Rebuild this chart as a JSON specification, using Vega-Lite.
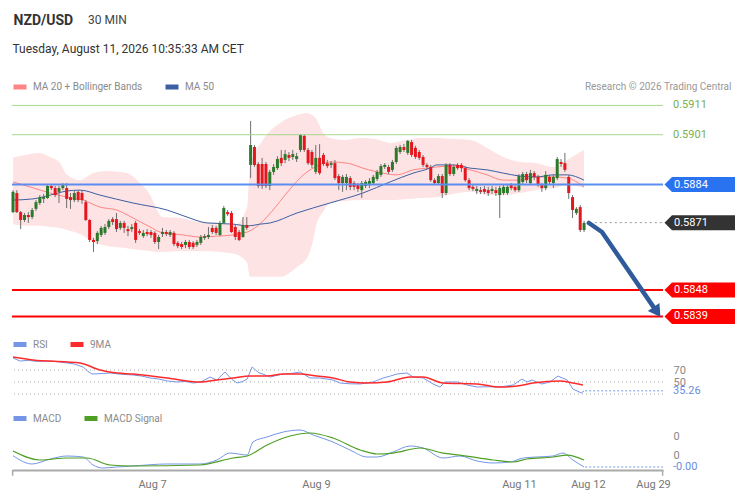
{
"$schema":"https://vega.github.io/schema/vega-lite/v6.json",
"background":"#ffffff",
"padding":{"left":9,"top":13,"right":3,"bottom":2},
"config":{"font":"Roboto","view":{"stroke":null},"axis":{"grid":false,"minExtent":0,"titleLimit":1000},
"legend":{"orient":"none","direction":"horizontal","symbolType":"stroke","symbolSize":169,"symbolStrokeWidth":5,"labelFontSize":10,"labelColor":"#8a8a8a","labelOffset":4,"columnPadding":12}},
"datasets":{
"candles":[
{"i":0,"o":0.58746,"h":0.58821,"l":0.58743,"c":0.58815},
{"i":1,"o":0.58811,"h":0.58821,"l":0.58743,"c":0.58746},
{"i":2,"o":0.58746,"h":0.5875,"l":0.58688,"c":0.58719},
{"i":3,"o":0.58719,"h":0.58743,"l":0.58712,"c":0.58736},
{"i":4,"o":0.58736,"h":0.58746,"l":0.58709,"c":0.58729},
{"i":5,"o":0.58729,"h":0.5876,"l":0.58722,"c":0.58753},
{"i":6,"o":0.58757,"h":0.58787,"l":0.5875,"c":0.5878},
{"i":7,"o":0.58777,"h":0.58804,"l":0.5877,"c":0.58797},
{"i":8,"o":0.58791,"h":0.58808,"l":0.58777,"c":0.58797},
{"i":9,"o":0.58794,"h":0.58838,"l":0.58791,"c":0.58835},
{"i":10,"o":0.58835,"h":0.58838,"l":0.58821,"c":0.58828},
{"i":11,"o":0.58828,"h":0.58835,"l":0.58797,"c":0.58804},
{"i":12,"o":0.58815,"h":0.58835,"l":0.58777,"c":0.58828},
{"i":13,"o":0.58828,"h":0.58845,"l":0.58821,"c":0.58838},
{"i":14,"o":0.58828,"h":0.58845,"l":0.5876,"c":0.58791},
{"i":15,"o":0.58797,"h":0.58811,"l":0.58757,"c":0.58787},
{"i":16,"o":0.58787,"h":0.58818,"l":0.5878,"c":0.58811},
{"i":17,"o":0.58815,"h":0.58821,"l":0.5878,"c":0.58787},
{"i":18,"o":0.58811,"h":0.58818,"l":0.58774,"c":0.58787},
{"i":19,"o":0.5878,"h":0.58787,"l":0.58716,"c":0.58719},
{"i":20,"o":0.58719,"h":0.58722,"l":0.58644,"c":0.58651},
{"i":21,"o":0.58651,"h":0.58658,"l":0.5861,"c":0.58644},
{"i":22,"o":0.58647,"h":0.58681,"l":0.58637,"c":0.58675},
{"i":23,"o":0.58668,"h":0.58699,"l":0.58661,"c":0.58692},
{"i":24,"o":0.58675,"h":0.58705,"l":0.58668,"c":0.58695},
{"i":25,"o":0.58695,"h":0.58722,"l":0.58688,"c":0.58716},
{"i":26,"o":0.58722,"h":0.58729,"l":0.58702,"c":0.58712},
{"i":27,"o":0.58722,"h":0.58743,"l":0.58678,"c":0.58688},
{"i":28,"o":0.58692,"h":0.58716,"l":0.58685,"c":0.58709},
{"i":29,"o":0.58709,"h":0.58716,"l":0.58675,"c":0.58692},
{"i":30,"o":0.58688,"h":0.58699,"l":0.58664,"c":0.58681},
{"i":31,"o":0.58688,"h":0.58705,"l":0.58678,"c":0.58695},
{"i":32,"o":0.58709,"h":0.58716,"l":0.58641,"c":0.58651},
{"i":33,"o":0.58681,"h":0.58688,"l":0.58668,"c":0.58675},
{"i":34,"o":0.58664,"h":0.58685,"l":0.58658,"c":0.58675},
{"i":35,"o":0.58678,"h":0.58688,"l":0.58664,"c":0.58671},
{"i":36,"o":0.58678,"h":0.58685,"l":0.58658,"c":0.58668},
{"i":37,"o":0.58675,"h":0.58681,"l":0.58637,"c":0.58644},
{"i":38,"o":0.58644,"h":0.58668,"l":0.5862,"c":0.58661},
{"i":39,"o":0.58671,"h":0.58692,"l":0.58661,"c":0.58678},
{"i":40,"o":0.58678,"h":0.58685,"l":0.58664,"c":0.58671},
{"i":41,"o":0.58668,"h":0.58685,"l":0.58661,"c":0.58678},
{"i":42,"o":0.58675,"h":0.58681,"l":0.5863,"c":0.58637},
{"i":43,"o":0.58641,"h":0.58647,"l":0.58623,"c":0.5863},
{"i":44,"o":0.58637,"h":0.58644,"l":0.5862,"c":0.58627},
{"i":45,"o":0.58634,"h":0.58651,"l":0.58623,"c":0.58644},
{"i":46,"o":0.58644,"h":0.58651,"l":0.5862,"c":0.58627},
{"i":47,"o":0.58641,"h":0.58647,"l":0.5862,"c":0.58627},
{"i":48,"o":0.58634,"h":0.58651,"l":0.58627,"c":0.58644},
{"i":49,"o":0.58641,"h":0.58668,"l":0.58634,"c":0.58661},
{"i":50,"o":0.58658,"h":0.58671,"l":0.58651,"c":0.58664},
{"i":51,"o":0.58661,"h":0.58695,"l":0.58654,"c":0.58668},
{"i":52,"o":0.58692,"h":0.58702,"l":0.58671,"c":0.58678},
{"i":53,"o":0.58692,"h":0.58699,"l":0.58668,"c":0.58675},
{"i":54,"o":0.58668,"h":0.58716,"l":0.58664,"c":0.58709},
{"i":55,"o":0.58709,"h":0.58767,"l":0.58705,"c":0.5876},
{"i":56,"o":0.58746,"h":0.58753,"l":0.58733,"c":0.58739},
{"i":57,"o":0.58743,"h":0.5875,"l":0.58675,"c":0.58678},
{"i":58,"o":0.58695,"h":0.58702,"l":0.58651,"c":0.58661},
{"i":59,"o":0.58678,"h":0.58685,"l":0.58647,"c":0.58651},
{"i":60,"o":0.58661,"h":0.58729,"l":0.58658,"c":0.58702},
{"i":61,"o":0.58702,"h":0.58729,"l":0.58685,"c":0.58692},
{"i":62,"o":0.58907,"h":0.59057,"l":0.58862,"c":0.58975},
{"i":63,"o":0.58968,"h":0.58975,"l":0.589,"c":0.58907},
{"i":64,"o":0.5891,"h":0.58917,"l":0.58828,"c":0.58835},
{"i":65,"o":0.5891,"h":0.58931,"l":0.58825,"c":0.58835},
{"i":66,"o":0.5891,"h":0.58917,"l":0.58828,"c":0.58835},
{"i":67,"o":0.58835,"h":0.5889,"l":0.58821,"c":0.58883},
{"i":68,"o":0.58883,"h":0.5891,"l":0.58873,"c":0.589},
{"i":69,"o":0.58896,"h":0.58937,"l":0.5889,"c":0.58927},
{"i":70,"o":0.58931,"h":0.58958,"l":0.58903,"c":0.58913},
{"i":71,"o":0.58924,"h":0.58958,"l":0.58913,"c":0.58944},
{"i":72,"o":0.58941,"h":0.58951,"l":0.5892,"c":0.58931},
{"i":73,"o":0.58934,"h":0.58958,"l":0.58924,"c":0.58944},
{"i":74,"o":0.58927,"h":0.58948,"l":0.58917,"c":0.58937},
{"i":75,"o":0.58958,"h":0.59012,"l":0.58951,"c":0.59009},
{"i":76,"o":0.59006,"h":0.59012,"l":0.58951,"c":0.58958},
{"i":77,"o":0.58958,"h":0.58965,"l":0.58907,"c":0.58913},
{"i":78,"o":0.58951,"h":0.58958,"l":0.58896,"c":0.58907},
{"i":79,"o":0.58883,"h":0.58975,"l":0.58876,"c":0.58931},
{"i":80,"o":0.58931,"h":0.58978,"l":0.58873,"c":0.58879},
{"i":81,"o":0.58941,"h":0.58948,"l":0.58903,"c":0.5891},
{"i":82,"o":0.58913,"h":0.58924,"l":0.58896,"c":0.58903},
{"i":83,"o":0.58907,"h":0.5892,"l":0.58896,"c":0.58913},
{"i":84,"o":0.58913,"h":0.58924,"l":0.58855,"c":0.58862},
{"i":85,"o":0.58869,"h":0.58876,"l":0.58821,"c":0.58845},
{"i":86,"o":0.58845,"h":0.58873,"l":0.58815,"c":0.58866},
{"i":87,"o":0.58845,"h":0.58876,"l":0.58821,"c":0.58866},
{"i":88,"o":0.58862,"h":0.58869,"l":0.58821,"c":0.58832},
{"i":89,"o":0.58845,"h":0.58852,"l":0.58821,"c":0.58832},
{"i":90,"o":0.58838,"h":0.58845,"l":0.58815,"c":0.58825},
{"i":91,"o":0.58821,"h":0.58852,"l":0.58794,"c":0.58845},
{"i":92,"o":0.58835,"h":0.58855,"l":0.58828,"c":0.58849},
{"i":93,"o":0.58838,"h":0.58862,"l":0.58828,"c":0.58852},
{"i":94,"o":0.58845,"h":0.58873,"l":0.58838,"c":0.58866},
{"i":95,"o":0.58859,"h":0.5889,"l":0.58852,"c":0.58883},
{"i":96,"o":0.58873,"h":0.5891,"l":0.58866,"c":0.58903},
{"i":97,"o":0.589,"h":0.58913,"l":0.58893,"c":0.58907},
{"i":98,"o":0.589,"h":0.58907,"l":0.58876,"c":0.58883},
{"i":99,"o":0.5889,"h":0.58924,"l":0.58883,"c":0.58917},
{"i":100,"o":0.58917,"h":0.58972,"l":0.5891,"c":0.58965},
{"i":101,"o":0.58951,"h":0.58975,"l":0.58944,"c":0.58968},
{"i":102,"o":0.58968,"h":0.58978,"l":0.58951,"c":0.58958},
{"i":103,"o":0.58948,"h":0.58992,"l":0.58941,"c":0.58989},
{"i":104,"o":0.58985,"h":0.58992,"l":0.58934,"c":0.58941},
{"i":105,"o":0.58965,"h":0.58972,"l":0.58927,"c":0.58934},
{"i":106,"o":0.58951,"h":0.58958,"l":0.58924,"c":0.58931},
{"i":107,"o":0.58934,"h":0.58941,"l":0.589,"c":0.58907},
{"i":108,"o":0.58907,"h":0.58913,"l":0.58893,"c":0.589},
{"i":109,"o":0.589,"h":0.58907,"l":0.58849,"c":0.58855},
{"i":110,"o":0.58855,"h":0.58862,"l":0.58838,"c":0.58845},
{"i":111,"o":0.58845,"h":0.58876,"l":0.58838,"c":0.58869},
{"i":112,"o":0.58869,"h":0.58876,"l":0.58794,"c":0.58811},
{"i":113,"o":0.58811,"h":0.58913,"l":0.58804,"c":0.58907},
{"i":114,"o":0.58907,"h":0.58913,"l":0.58869,"c":0.58876},
{"i":115,"o":0.58876,"h":0.58907,"l":0.58869,"c":0.589},
{"i":116,"o":0.58907,"h":0.58913,"l":0.5889,"c":0.58896},
{"i":117,"o":0.58907,"h":0.58913,"l":0.58883,"c":0.58896},
{"i":118,"o":0.58896,"h":0.58903,"l":0.58849,"c":0.58855},
{"i":119,"o":0.58855,"h":0.58862,"l":0.58821,"c":0.58828},
{"i":120,"o":0.58832,"h":0.58842,"l":0.58818,"c":0.58825},
{"i":121,"o":0.58818,"h":0.58835,"l":0.58808,"c":0.58825},
{"i":122,"o":0.58821,"h":0.58832,"l":0.58808,"c":0.58815},
{"i":123,"o":0.58825,"h":0.58835,"l":0.58808,"c":0.58815},
{"i":124,"o":0.58821,"h":0.58832,"l":0.58801,"c":0.58811},
{"i":125,"o":0.58818,"h":0.58835,"l":0.58808,"c":0.58825},
{"i":126,"o":0.58821,"h":0.58832,"l":0.58801,"c":0.58811},
{"i":127,"o":0.58804,"h":0.58835,"l":0.58726,"c":0.58828},
{"i":128,"o":0.58811,"h":0.58842,"l":0.58804,"c":0.58832},
{"i":129,"o":0.58811,"h":0.58838,"l":0.58804,"c":0.58832},
{"i":130,"o":0.58838,"h":0.58845,"l":0.58821,"c":0.58828},
{"i":131,"o":0.58832,"h":0.58838,"l":0.58815,"c":0.58821},
{"i":132,"o":0.58821,"h":0.58876,"l":0.58815,"c":0.58869},
{"i":133,"o":0.58849,"h":0.58883,"l":0.58842,"c":0.58876},
{"i":134,"o":0.58876,"h":0.58883,"l":0.58845,"c":0.58855},
{"i":135,"o":0.58845,"h":0.5889,"l":0.58838,"c":0.58879},
{"i":136,"o":0.58879,"h":0.58886,"l":0.58855,"c":0.58866},
{"i":137,"o":0.58866,"h":0.58873,"l":0.58832,"c":0.58838},
{"i":138,"o":0.58838,"h":0.58845,"l":0.58815,"c":0.58828},
{"i":139,"o":0.58828,"h":0.58886,"l":0.58821,"c":0.58873},
{"i":140,"o":0.58866,"h":0.58873,"l":0.58842,"c":0.58849},
{"i":141,"o":0.58845,"h":0.58873,"l":0.58828,"c":0.58866},
{"i":142,"o":0.58862,"h":0.58934,"l":0.58855,"c":0.58927},
{"i":143,"o":0.58917,"h":0.58927,"l":0.589,"c":0.5891},
{"i":144,"o":0.58913,"h":0.58948,"l":0.58883,"c":0.5889},
{"i":145,"o":0.58866,"h":0.58873,"l":0.58791,"c":0.58811},
{"i":146,"o":0.58797,"h":0.58804,"l":0.58726,"c":0.58753},
{"i":147,"o":0.58743,"h":0.58763,"l":0.58736,"c":0.58757},
{"i":148,"o":0.58763,"h":0.5877,"l":0.58678,"c":0.58685},
{"i":149,"o":0.58685,"h":0.58716,"l":0.58678,"c":0.58709}
],
"band":[
{"i":0,"up":0.58931,"lo":0.58705},{"i":3.1,"up":0.58941,"lo":0.58699},{"i":7,"up":0.58948,"lo":0.58699},{"i":9.7,"up":0.58934,"lo":0.58695},{"i":12.3,"up":0.58913,"lo":0.58692},{"i":14.1,"up":0.58873,"lo":0.58685},{"i":17.5,"up":0.58855,"lo":0.58671},{"i":20.9,"up":0.58879,"lo":0.58644},{"i":24.5,"up":0.58886,"lo":0.5863},{"i":29.7,"up":0.58879,"lo":0.58623},{"i":33.1,"up":0.58845,"lo":0.58617},{"i":35.8,"up":0.58804,"lo":0.58613},{"i":37.6,"up":0.58753,"lo":0.5861},{"i":38.9,"up":0.58729,"lo":0.5861},{"i":43.6,"up":0.58726,"lo":0.58613},{"i":48.8,"up":0.58712,"lo":0.58613},{"i":54,"up":0.58709,"lo":0.5861},{"i":57.9,"up":0.58702,"lo":0.58603},{"i":61.1,"up":0.58763,"lo":0.58572},{"i":61.8,"up":0.589,"lo":0.58525},{"i":65.2,"up":0.58992,"lo":0.58525},{"i":69.7,"up":0.5905,"lo":0.58525},{"i":74.1,"up":0.59077,"lo":0.58559},{"i":76.7,"up":0.59084,"lo":0.58589},{"i":78,"up":0.59077,"lo":0.58634},{"i":79.3,"up":0.5906,"lo":0.58709},{"i":80.9,"up":0.59016,"lo":0.58746},{"i":82.7,"up":0.58999,"lo":0.58777},{"i":86.6,"up":0.58992,"lo":0.58784},{"i":90.6,"up":0.58999,"lo":0.58787},{"i":94.5,"up":0.58995,"lo":0.58787},{"i":98.4,"up":0.58982,"lo":0.58787},{"i":102.8,"up":0.58992,"lo":0.58791},{"i":106.2,"up":0.58999,"lo":0.58794},{"i":110.6,"up":0.58999,"lo":0.58797},{"i":114.8,"up":0.58995,"lo":0.58808},{"i":119.3,"up":0.58992,"lo":0.58815},{"i":123.7,"up":0.58965,"lo":0.58804},{"i":127.9,"up":0.58934,"lo":0.58804},{"i":132.3,"up":0.58917,"lo":0.58811},{"i":136.7,"up":0.58913,"lo":0.58821},{"i":140.9,"up":0.589,"lo":0.58828},{"i":144.6,"up":0.58924,"lo":0.58838},{"i":146.7,"up":0.58941,"lo":0.58835},{"i":149,"up":0.58958,"lo":0.58828}
],
"ma20":[
{"i":0,"v":0.58849},{"i":4.4,"v":0.58832},{"i":9.7,"v":0.58811},{"i":14.1,"v":0.58797},{"i":18.3,"v":0.58787},{"i":22.7,"v":0.58763},{"i":27.1,"v":0.58753},{"i":31.3,"v":0.58726},{"i":35.8,"v":0.58695},{"i":38.4,"v":0.58678},{"i":44.4,"v":0.58668},{"i":48.8,"v":0.58661},{"i":53.2,"v":0.58664},{"i":57.4,"v":0.58668},{"i":61.1,"v":0.58678},{"i":78.3,"v":0.58896},{"i":82.7,"v":0.58917},{"i":87.2,"v":0.58913},{"i":91.3,"v":0.58896},{"i":95,"v":0.58883},{"i":100.2,"v":0.58873},{"i":104.4,"v":0.5889},{"i":108,"v":0.58896},{"i":110.6,"v":0.589},{"i":114.8,"v":0.58903},{"i":119.3,"v":0.5889},{"i":123.7,"v":0.58873},{"i":127.9,"v":0.58855},{"i":132.3,"v":0.58855},{"i":136.7,"v":0.58866},{"i":140.9,"v":0.58866},{"i":144.6,"v":0.58862},{"i":149,"v":0.58832}
],
"ma50":[
{"i":0,"v":0.58787},{"i":5.2,"v":0.58791},{"i":9.7,"v":0.58804},{"i":14.1,"v":0.58818},{"i":17.5,"v":0.58821},{"i":22.7,"v":0.58804},{"i":31.3,"v":0.58777},{"i":40.2,"v":0.58753},{"i":45.4,"v":0.58729},{"i":50.6,"v":0.58709},{"i":57.4,"v":0.58705},{"i":61.3,"v":0.58699},{"i":64.5,"v":0.58705},{"i":67.1,"v":0.58709},{"i":74.1,"v":0.58743},{"i":82.7,"v":0.58777},{"i":91.3,"v":0.58811},{"i":98.4,"v":0.58849},{"i":104.4,"v":0.58879},{"i":108.8,"v":0.58896},{"i":110.6,"v":0.58907},{"i":114.8,"v":0.58907},{"i":119.3,"v":0.58896},{"i":123.7,"v":0.5889},{"i":127.9,"v":0.58879},{"i":132.3,"v":0.58869},{"i":136.7,"v":0.58866},{"i":140.9,"v":0.58873},{"i":144.6,"v":0.58873},{"i":149,"v":0.58855}
],
"levels":[
{"level":0.5911,"kind":"R2"},{"level":0.5901,"kind":"R1"},{"level":0.5884,"kind":"P"},{"level":0.5871,"kind":"L"},{"level":0.5848,"kind":"S1"},{"level":0.5839,"kind":"S2"}
],
"arrow":[{"i":150.27,"v":0.587088},{"i":153.67,"v":0.586781},{"i":167.15,"v":0.584218}],
"arrowTip":[{"i":168.93,"v":0.583881}],
"rsi":[
{"i":0,"v":90},{"i":1.8,"v":85},{"i":4,"v":86},{"i":6,"v":84.5},{"i":9.7,"v":85},{"i":12,"v":83.5},{"i":14.1,"v":81.7},{"i":16,"v":80},{"i":18.3,"v":75},{"i":19.5,"v":68},{"i":20.6,"v":63.3},{"i":23,"v":64},{"i":25.3,"v":65},{"i":28,"v":63},{"i":31.3,"v":61.7},{"i":33.5,"v":60},{"i":35.8,"v":56.7},{"i":38,"v":55},{"i":40,"v":52},{"i":42.8,"v":50},{"i":45,"v":51},{"i":47,"v":48.3},{"i":49,"v":50},{"i":51.4,"v":58.3},{"i":53.2,"v":53.3},{"i":55.3,"v":66.7},{"i":57,"v":55},{"i":58.5,"v":48.3},{"i":60,"v":51},{"i":61.1,"v":55},{"i":62.4,"v":75},{"i":64,"v":66},{"i":65.2,"v":63.3},{"i":67.1,"v":58.3},{"i":68.8,"v":61},{"i":70.5,"v":63.3},{"i":72.5,"v":64},{"i":74.9,"v":66.7},{"i":77.5,"v":56.7},{"i":80.1,"v":56.7},{"i":83.5,"v":53.3},{"i":85.3,"v":48.3},{"i":88,"v":47},{"i":90.6,"v":46.7},{"i":93.9,"v":50},{"i":96.6,"v":56.7},{"i":98.5,"v":60},{"i":100.2,"v":63.3},{"i":102.8,"v":65},{"i":104.4,"v":58.3},{"i":107,"v":56.7},{"i":109.6,"v":46.7},{"i":111.4,"v":41.7},{"i":112.7,"v":50},{"i":115.9,"v":50},{"i":118.5,"v":45},{"i":121.1,"v":41.7},{"i":124,"v":42},{"i":127.1,"v":41.7},{"i":130.5,"v":45},{"i":132.8,"v":55},{"i":134.1,"v":50},{"i":135.4,"v":53.3},{"i":138,"v":46.7},{"i":140.1,"v":50},{"i":142.2,"v":60},{"i":144.6,"v":53.3},{"i":146.1,"v":38.3},{"i":148.3,"v":31.7},{"i":149,"v":35.26}
],
"rsima":[
{"i":0,"v":91.7},{"i":5.2,"v":86.7},{"i":14.1,"v":83.3},{"i":17.5,"v":81.7},{"i":22.7,"v":70},{"i":27.1,"v":65},{"i":31.3,"v":63.3},{"i":40.2,"v":56.7},{"i":48.8,"v":50},{"i":53.2,"v":53.3},{"i":57.4,"v":56.7},{"i":61.8,"v":60},{"i":66.3,"v":60},{"i":70.5,"v":63.3},{"i":74.9,"v":63.3},{"i":79.3,"v":60},{"i":83.5,"v":56.7},{"i":87.9,"v":50},{"i":92.4,"v":48.3},{"i":97.6,"v":50},{"i":103.6,"v":58.3},{"i":107,"v":58.3},{"i":112.2,"v":48.3},{"i":121.1,"v":46.7},{"i":127.1,"v":41.7},{"i":131.5,"v":43.3},{"i":135.7,"v":48.3},{"i":142.7,"v":51.7},{"i":146.1,"v":48.3},{"i":148.7,"v":45}
],
"macd":[
{"i":0,"v":0.0001},{"i":5,"v":0.0000126},{"i":9.7,"v":0.0000652},{"i":14.1,"v":0.0000968},{"i":18.3,"v":0.0000863},{"i":20.9,"v":0.000002},{"i":23.5,"v":-0.0000295},{"i":27.1,"v":-0.0000189},{"i":31.3,"v":-0.0000084},{"i":40.2,"v":0.0000126},{"i":48.8,"v":0.0000126},{"i":53.2,"v":0.0000547},{"i":56.6,"v":0.000128},{"i":61.1,"v":0.000107},{"i":62.6,"v":0.000244},{"i":66.3,"v":0.000297},{"i":70.5,"v":0.000349},{"i":74.9,"v":0.00037},{"i":78.3,"v":0.000318},{"i":83.5,"v":0.000244},{"i":87.9,"v":0.00016},{"i":92.4,"v":0.0000863},{"i":95,"v":0.0000863},{"i":99.2,"v":0.000139},{"i":103.6,"v":0.000202},{"i":107,"v":0.000181},{"i":112.2,"v":0.0000757},{"i":116.6,"v":0.0000968},{"i":121.1,"v":0.0000442},{"i":125.3,"v":0.0000231},{"i":129.7,"v":0.0000337},{"i":133.1,"v":0.0000757},{"i":136.7,"v":0.0000863},{"i":140.9,"v":0.0000968},{"i":143.5,"v":0.000128},{"i":146.1,"v":0.0000547},{"i":149,"v":-0.0000189}
],
"signal":[
{"i":0,"v":0.000149},{"i":7,"v":0.0000547},{"i":14.1,"v":0.0000757},{"i":19.3,"v":0.0000757},{"i":25.3,"v":0.000002},{"i":31.3,"v":-0.0000084},{"i":48.8,"v":0.000002},{"i":57.4,"v":0.0000757},{"i":61.1,"v":0.0000968},{"i":66.3,"v":0.000213},{"i":72.3,"v":0.000307},{"i":77.5,"v":0.000339},{"i":83.5,"v":0.000286},{"i":90.6,"v":0.00016},{"i":95,"v":0.000118},{"i":99.2,"v":0.000128},{"i":106.2,"v":0.000181},{"i":112.2,"v":0.000128},{"i":116.6,"v":0.000107},{"i":125.3,"v":0.0000547},{"i":130.5,"v":0.0000337},{"i":134.1,"v":0.0000652},{"i":140.9,"v":0.0000863},{"i":144.6,"v":0.000107},{"i":149,"v":0.0000547}
]
},
"spacing":12,
"bounds":"flush",
"resolve":{"scale":{"color":"independent"},"legend":{"color":"independent"}},
"vconcat":[
{
"width":651,"height":244,
"resolve":{"axis":{"x":"independent","y":"independent"}},
"layer":[
{"data":{"name":"band"},"mark":{"type":"area","color":"#fde3e3","interpolate":"monotone"},
 "encoding":{
  "x":{"field":"i","type":"quantitative","scale":{"domain":[-0.26,169.6],"nice":false,"zero":false,"padding":0},
   "axis":{"orient":"top","title":"NZD/USD","labels":false,"ticks":false,"domain":false,"titleX":1,"titleY":-72,"titleAlign":"left","titleAnchor":"start","titleBaseline":"alphabetic","titleFontSize":14,"titleFontWeight":"bold","titleColor":"#333333","titlePadding":0}},
  "y":{"field":"lo","type":"quantitative","scale":{"domain":[0.583096,0.591421],"nice":false,"zero":false},
   "axis":{"orient":"left","title":"30 MIN","labels":false,"ticks":false,"domain":false,"titleAngle":0,"titleX":75.5,"titleY":-72.5,"titleAlign":"left","titleBaseline":"alphabetic","titleFontSize":12,"titleFontWeight":"normal","titleColor":"#444444","titlePadding":0}},
  "y2":{"field":"up"}}},
{"data":{"name":"ma20"},"mark":{"type":"line","strokeWidth":1,"interpolate":"monotone"},
 "encoding":{
  "x":{"field":"i","type":"quantitative","scale":{"domain":[-0.26,169.6],"nice":false,"zero":false,"padding":0},"axis":null},
  "y":{"field":"v","type":"quantitative","scale":{"domain":[0.583096,0.591421],"nice":false,"zero":false},"axis":null},
  "color":{"datum":"MA 20 + Bollinger Bands","scale":{"domain":["MA 20 + Bollinger Bands","MA 50"],"range":["#ff8585","#3d5fa3"]},
   "legend":{"title":null,"orient":"none","legendX":-1,"legendY":-18,"direction":"horizontal","encode":{"symbols":{"update":{"strokeWidth":{"value":5}}}}}}}},
{"data":{"name":"ma50"},"mark":{"type":"line","strokeWidth":1,"interpolate":"monotone"},
 "encoding":{
  "x":{"field":"i","type":"quantitative","axis":null},
  "y":{"field":"v","type":"quantitative","axis":null},
  "color":{"datum":"MA 50"}}},
{"data":{"name":"candles"},"mark":{"type":"rule","color":"#6e6e6e","strokeWidth":1},
 "encoding":{
  "x":{"field":"i","type":"quantitative",
   "axis":{"orient":"bottom","title":"Tuesday, August 11, 2026 10:35:33 AM CET","labels":false,"ticks":false,"domain":false,"titleX":0,"titleY":-287.5,"titleAlign":"left","titleAnchor":"start","titleBaseline":"alphabetic","titleFontSize":12,"titleFontWeight":"normal","titleColor":"#333333","titlePadding":0}},
  "y":{"field":"l","type":"quantitative",
   "axis":{"orient":"right","title":"Research © 2026 Trading Central","labels":false,"ticks":false,"domain":false,"titleAngle":0,"titleX":68,"titleY":-9.7,"titleAlign":"right","titleBaseline":"middle","titleFontSize":10,"titleFontWeight":"normal","titleColor":"#999999","titlePadding":0}},
  "y2":{"field":"h"}}},
{"data":{"name":"candles"},"mark":{"type":"bar","width":3},
 "encoding":{
  "x":{"field":"i","type":"quantitative","scale":{"domain":[-0.26,169.6],"nice":false,"zero":false,"padding":0},"axis":null},
  "y":{"field":"o","type":"quantitative","axis":null},
  "y2":{"field":"c"},
  "color":{"condition":{"test":"datum.c >= datum.o","value":"#2b7a2b"},"value":"#e5161d"}}},
{"data":{"name":"levels"},"transform":[{"filter":{"field":"kind","oneOf":["R1","R2"]}}],"mark":{"type":"rule","color":"#a8d88f","strokeWidth":1},
 "encoding":{"y":{"field":"level","type":"quantitative","axis":null}}},
{"data":{"name":"levels"},"transform":[{"filter":{"field":"kind","equal":"P"}}],"mark":{"type":"rule","color":"#5b8def","strokeWidth":2},
 "encoding":{"y":{"field":"level","type":"quantitative","axis":null}}},
{"data":{"name":"levels"},"transform":[{"filter":{"field":"kind","oneOf":["S1","S2"]}}],"mark":{"type":"rule","color":"#ff0000","strokeWidth":2},
 "encoding":{"y":{"field":"level","type":"quantitative","axis":null}}},
{"data":{"name":"levels"},"transform":[{"filter":{"field":"kind","equal":"L"}}],"mark":{"type":"rule","color":"#999999","strokeWidth":1,"strokeDash":[2,3]},
 "encoding":{"x":{"datum":150.5,"type":"quantitative","axis":null},"x2":{"datum":169.6},"y":{"field":"level","type":"quantitative","axis":null}}},
{"data":{"name":"arrow"},"mark":{"type":"line","color":"#2f5b9b","strokeWidth":4.5,"strokeCap":"round","strokeJoin":"round"},
 "encoding":{"x":{"field":"i","type":"quantitative","axis":null},"y":{"field":"v","type":"quantitative","axis":null}}},
{"data":{"name":"arrowTip"},"mark":{"type":"point","shape":"M0,0L-1,-13.9L-12.6,-5.9Z","size":4,"filled":true,"opacity":1,"color":"#2f5b9b","strokeWidth":0},
 "encoding":{"x":{"field":"i","type":"quantitative","axis":null},"y":{"field":"v","type":"quantitative","axis":null}}},
{"data":{"name":"levels"},"transform":[{"filter":{"field":"kind","equal":"P"}}],"mark":{"type":"point","shape":"M1.5,0L9,-7.5L72,-7.5L72,7.5L9,7.5Z","size":4,"filled":true,"opacity":1,"color":"#2a73f0","strokeWidth":0},
 "encoding":{"x":{"datum":169.6,"type":"quantitative","axis":null},"y":{"field":"level","type":"quantitative","axis":null}}},
{"data":{"name":"levels"},"transform":[{"filter":{"field":"kind","equal":"L"}}],"mark":{"type":"point","shape":"M1.5,0L9,-7.5L72,-7.5L72,7.5L9,7.5Z","size":4,"filled":true,"opacity":1,"color":"#333333","strokeWidth":0},
 "encoding":{"x":{"datum":169.6,"type":"quantitative","axis":null},"y":{"field":"level","type":"quantitative","axis":null}}},
{"data":{"name":"levels"},"transform":[{"filter":{"field":"kind","oneOf":["S1","S2"]}}],"mark":{"type":"point","shape":"M1.5,0L9,-7.5L72,-7.5L72,7.5L9,7.5Z","size":4,"filled":true,"opacity":1,"color":"#ff0000","strokeWidth":0},
 "encoding":{"x":{"datum":169.6,"type":"quantitative","axis":null},"y":{"field":"level","type":"quantitative","axis":null}}},
{"data":{"name":"levels"},"transform":[{"filter":{"field":"kind","oneOf":["P","L","S1","S2"]}}],"mark":{"type":"text","align":"left","baseline":"middle","dx":11,"fontSize":11,"color":"#ffffff"},
 "encoding":{"x":{"datum":169.6,"type":"quantitative","axis":null},"y":{"field":"level","type":"quantitative","axis":null},"text":{"field":"level","format":".4f"}}},
{"data":{"name":"levels"},"transform":[{"filter":{"field":"kind","oneOf":["R1","R2"]}}],"mark":{"type":"text","align":"left","baseline":"middle","dx":10,"fontSize":11,"color":"#7ab04a"},
 "encoding":{"x":{"datum":169.6,"type":"quantitative","axis":null},"y":{"field":"level","type":"quantitative","axis":null},"text":{"field":"level","format":".4f"}}}
]
},
{
"width":651,"height":60,
"resolve":{"axis":{"x":"independent","y":"independent"}},
"layer":[
{"data":{"values":[{"ref":70},{"ref":50},{"ref":30}]},"mark":{"type":"rule","color":"#aaaaaa","strokeWidth":1,"strokeDash":[1,3]},
 "encoding":{"y":{"field":"ref","type":"quantitative","scale":{"domain":[0,100],"nice":false,"zero":false},"axis":null}}},
{"data":{"name":"rsi"},"mark":{"type":"line","strokeWidth":1},
 "encoding":{
  "x":{"field":"i","type":"quantitative","scale":{"domain":[-0.26,169.6],"nice":false,"zero":false},"axis":null},
  "y":{"field":"v","type":"quantitative","scale":{"domain":[0,100],"nice":false,"zero":false},
   "axis":{"orient":"right","values":[70,50],"title":null,"domain":false,"ticks":false,"labelPadding":10,"labelFontSize":11,"labelColor":"#888888","labelOverlap":false,"grid":false}},
  "color":{"datum":"RSI","scale":{"domain":["RSI","9MA"],"range":["#7596e6","#ff2a2a"]},
   "legend":{"title":null,"orient":"none","legendX":-1,"legendY":-16.5,"direction":"horizontal","encode":{"symbols":{"update":{"strokeWidth":{"value":5}}}}}}}},
{"data":{"name":"rsima"},"mark":{"type":"line","strokeWidth":1.5,"interpolate":"monotone"},
 "encoding":{
  "x":{"field":"i","type":"quantitative","axis":null},
  "y":{"field":"v","type":"quantitative","axis":null},
  "color":{"datum":"9MA"}}},
{"data":{"values":[{"rsi":35.26}]},"mark":{"type":"rule","color":"#7596e6","strokeWidth":1,"strokeDash":[2,2]},
 "encoding":{"x":{"datum":149.3,"type":"quantitative","axis":null},"x2":{"datum":169.6},"y":{"field":"rsi","type":"quantitative","axis":null}}},
{"data":{"values":[{"rsi":35.26}]},"mark":{"type":"text","align":"left","baseline":"middle","dx":10,"fontSize":11,"color":"#6a8de0"},
 "encoding":{"x":{"datum":169.6,"type":"quantitative","axis":null},"y":{"field":"rsi","type":"quantitative","axis":null},"text":{"field":"rsi","format":".2f"}}}
]
},
{
"width":651,"height":46,
"resolve":{"axis":{"x":"independent","y":"independent"}},
"layer":[
{"data":{"name":"macd"},"mark":{"type":"line","strokeWidth":1,"interpolate":"monotone"},
 "encoding":{
  "x":{"field":"i","type":"quantitative","scale":{"domain":[-0.26,169.6],"nice":false,"zero":false},
   "axis":{"orient":"bottom","values":[36.3,79.05,132,150,167],"labelExpr":"datum.value < 50 ? 'Aug 7' : datum.value < 100 ? 'Aug 9' : datum.value < 140 ? 'Aug 11' : datum.value < 160 ? 'Aug 12' : 'Aug 29'","title":null,"ticks":false,"domainColor":"#aaaaaa","domainWidth":2,"labelPadding":8,"labelFontSize":11,"labelColor":"#777777","labelFlush":false,"labelOverlap":false,"grid":false}},
  "y":{"field":"v","type":"quantitative","scale":{"domain":[-0.0000505,0.0004335],"nice":false,"zero":false},
   "axis":{"orient":"right","values":[0.0003,0.0001],"format":".0f","title":null,"domain":false,"ticks":false,"labelPadding":10,"labelFontSize":11,"labelColor":"#888888","labelOverlap":false,"grid":false}},
  "color":{"datum":"MACD","scale":{"domain":["MACD","MACD Signal"],"range":["#7596e6","#4f9f24"]},
   "legend":{"title":null,"orient":"none","legendX":-1,"legendY":-14.5,"direction":"horizontal","encode":{"symbols":{"update":{"strokeWidth":{"value":5}}}}}}}},
{"data":{"name":"signal"},"mark":{"type":"line","strokeWidth":1.2,"interpolate":"monotone"},
 "encoding":{
  "x":{"field":"i","type":"quantitative","axis":null},
  "y":{"field":"v","type":"quantitative","axis":null},
  "color":{"datum":"MACD Signal"}}},
{"data":{"values":[{"macd":-0.0000189,"label":"-0.00"}]},"mark":{"type":"rule","color":"#7596e6","strokeWidth":1,"strokeDash":[2,2]},
 "encoding":{"x":{"datum":149.3,"type":"quantitative","axis":null},"x2":{"datum":169.6},"y":{"field":"macd","type":"quantitative","axis":null}}},
{"data":{"values":[{"macd":-0.0000189,"label":"-0.00"}]},"mark":{"type":"text","align":"left","baseline":"middle","dx":10,"fontSize":11,"color":"#6a8de0"},
 "encoding":{"x":{"datum":169.6,"type":"quantitative","axis":null},"y":{"field":"macd","type":"quantitative","axis":null},"text":{"field":"label"}}},
{"data":{"values":[{"i":-0.1},{"i":169.5}]},"mark":{"type":"rule","color":"#aaaaaa","strokeWidth":1.5},
 "encoding":{"x":{"field":"i","type":"quantitative","axis":null},"y":{"datum":-0.0000505,"type":"quantitative","axis":null},"y2":{"datum":-0.000111}}}
]
}
]
}
